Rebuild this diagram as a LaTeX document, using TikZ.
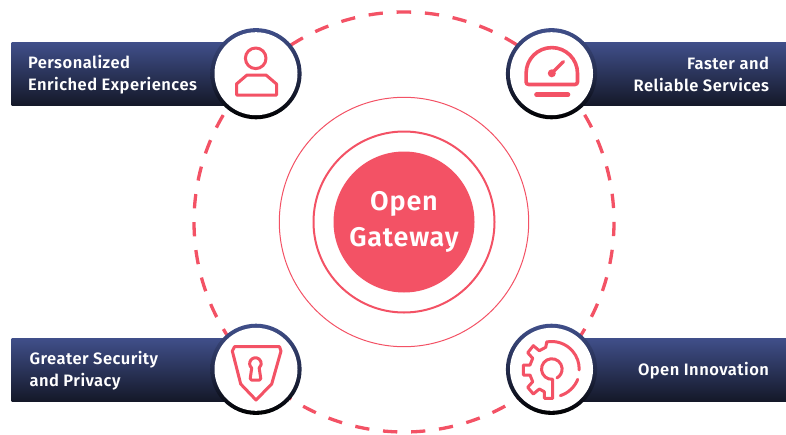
\documentclass[tikz,border=0pt]{standalone}
\usepackage{fontspec}
\setmainfont{Fira Sans}
\newfontfamily\labelfont[LetterSpace=3]{Fira Sans SemiBold}
\definecolor{coral}{HTML}{F35265}
\definecolor{navytop}{HTML}{404F8A}
\definecolor{navybot}{HTML}{141828}
\tikzset{
  ring/.style={circle,draw=coral,fill=none,inner sep=0,outer sep=0},
  bar/.style={rectangle,inner sep=0,outer sep=0,minimum height=63.4pt,top color=navytop,bottom color=navybot,middle color=navytop!50!navybot},
  badgeout/.style={circle,inner sep=0,outer sep=0,minimum size=91.2pt,top color=navytop,bottom color=black,middle color=navytop!55!black},
  badgein/.style={circle,inner sep=0,outer sep=0,minimum size=83pt,fill=white},
  lab/.style={inner sep=0,outer sep=0,text=white,font=\labelfont\fontsize{16.5}{21.7}\selectfont},
  icon/.style={draw=coral,line width=3pt,line join=round,line cap=round,fill=none}
}
\begin{document}
\begin{tikzpicture}[x=1pt,y=1pt,yscale=-1]
\useasboundingbox (0,0) rectangle (786,434);
\coordinate (ctr) at (404,222);
% dashed orbit: 47 dashes, one centred at the top
\draw[coral,line width=3.3pt,dash pattern=on 14.3pt off 13.77pt]
  (404,222) ++(-91.95:210) arc[start angle=-91.95,end angle=268.05,radius=210];
\node[ring,line width=1pt,minimum size=249.4pt] (outerring) at (ctr) {};
\node[ring,line width=2pt,minimum size=181pt] (midring) at (ctr) {};
\node[circle,fill=coral,inner sep=0,outer sep=0,minimum size=141pt,align=center,text=white,
  font=\labelfont\fontsize{27}{35.7}\selectfont] (core) at (ctr) {Open\\Gateway};
% bars
\node[bar,anchor=north west,minimum width=245pt] (bartl) at (11.5,42.3) {};
\node[bar,anchor=north east,minimum width=234pt] (bartr) at (786,42.3) {};
\node[bar,anchor=north west,minimum width=245pt] (barbl) at (11.5,338) {};
\node[bar,anchor=north east,minimum width=234pt] (barbr) at (786,338) {};
% badges
\node[badgeout] (tlo) at (256,73.7) {};
\node[badgeout] (tro) at (551.5,73.7) {};
\node[badgeout] (blo) at (256,369.3) {};
\node[badgeout] (bro) at (551.5,369.3) {};
\node[badgein] (tli) at (tlo) {};
\node[badgein] (tri) at (tro) {};
\node[badgein] (bli) at (blo) {};
\node[badgein] (bri) at (bro) {};
% labels
\node[lab,anchor=west,align=left] (ltl) at (28,74.5) {Personalized\\Enriched Experiences};
\node[lab,anchor=east,align=right] (ltr) at (769,74.5) {Faster and\\Reliable Services};
\node[lab,anchor=west,align=left] (lbl) at (29.5,371) {Greater Security\\and Privacy};
\node[lab,anchor=east,align=right] (lbr) at (769,370.5) {Open Innovation};
% person icon
\draw[icon] (255.7,58.3) circle[radius=10.3];
\draw[icon,line cap=butt] (236.5,95) -- (236.5,84) -- (247,75) -- (266,75) -- (276.5,84) -- (276.5,95) -- cycle;
% gauge icon
\draw[icon,line width=3.6pt] (530,84.5) [rounded corners=2.5pt] -- (526.1,84.5) [sharp corners] -- (526.1,73.3)
  arc[start angle=180,end angle=360,radius=25.7] [rounded corners=2.5pt] -- (577.5,84.5) [sharp corners] -- cycle;
\fill[coral] (551.8,73.3) circle[radius=4];
\draw[icon,line width=3.4pt] (551.8,73.3) -- (563.3,61.7);
\draw[icon,line width=4.6pt] (536.5,94.7) -- (568,94.7);
% shield icon
\draw[icon] (234.5,346.7) -- (279.5,346.7) -- (281,351) -- (271.7,384) -- (256,400) -- (240.7,384) -- (232.3,351) -- cycle;
\draw[icon] (251.7,368) arc[start angle=130,end angle=410,radius=5.8]
  [rounded corners=1.5pt] -- (261,380) -- (250,380) [sharp corners] -- cycle;
% gear icon
\draw[icon] (546.7,342.3) -- (545.7,347.3) -- (539.3,350.7) -- (533.3,345.7) -- (527.7,352.7) -- (532.7,358.3)
  -- (530,365) -- (523.3,365) -- (523.3,375) -- (530,375) -- (532.7,381.7) -- (527.7,387.3) -- (533.3,394)
  -- (539.3,389) -- (544.3,391.7) -- (544.3,398.3) -- (552.7,398.3) -- (552.7,379.3)
  arc[start angle=85,end angle=420,radius=10.3];
\draw[icon] (551.7,369) ++(259:27.5) arc[start angle=259,end angle=362,radius=27.5];
\draw[icon] (551.7,369) ++(21.7:28) arc[start angle=21.7,end angle=72,radius=28];
\end{tikzpicture}
\end{document}
